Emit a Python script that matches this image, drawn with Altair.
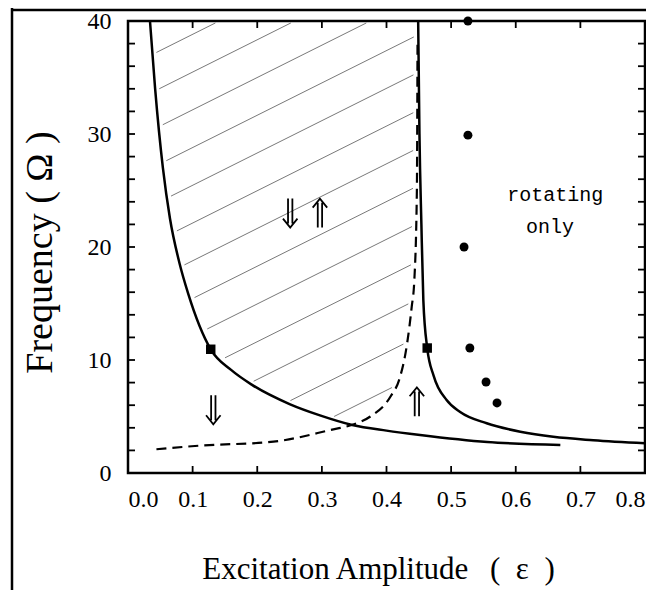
import altair as alt
import numpy as np
import pandas as pd

# ---- data ----
# left solid boundary
c1_eps = [0.034, 0.042, 0.054, 0.065, 0.080, 0.093, 0.128, 0.160, 0.192, 0.250, 0.297, 0.347, 0.400, 0.452, 0.556, 0.669]
c1_om = [40.0, 34.0, 27.0, 22.5, 18.5, 15.9, 10.95, 9.1, 7.8, 6.1, 5.1, 4.25, 3.75, 3.36, 2.74, 2.48]
# right solid boundary
c2_eps = [0.449, 0.451, 0.454, 0.457, 0.463, 0.473, 0.493, 0.514, 0.555, 0.607, 0.658, 0.720, 0.800]
c2_om = [40.0, 30.0, 22.0, 15.3, 11.06, 8.6, 6.46, 5.4, 4.4, 3.65, 3.2, 2.9, 2.63]
# dashed boundary
d_eps = [0.044, 0.111, 0.225, 0.313, 0.346, 0.375, 0.406, 0.421, 0.432, 0.439, 0.443, 0.447, 0.448]
d_om = [2.1, 2.42, 2.77, 3.8, 4.25, 5.0, 6.75, 8.5, 11.5, 14.7, 17.0, 25.0, 38.0]
# square markers
sq_eps = [0.128, 0.463]
sq_om = [10.95, 11.06]
# round markers
dot_eps = [0.526, 0.526, 0.520, 0.529, 0.554, 0.571]
dot_om = [40.0, 29.9, 20.0, 11.06, 8.05, 6.2]
# arrows
arr_eps = [0.251, 0.297, 0.132, 0.447]
arr_om = [23.0, 23.0, 5.6, 6.3]
arr_dir = ["down", "up", "down", "up"]
# text
txt_lab = ["rotating", "only"]
txt_eps = [0.661, 0.653]
txt_om = [24.6, 21.8]
# axis ticks
x_ticks = [0.0, 0.1, 0.2, 0.3, 0.4, 0.5, 0.6, 0.7, 0.8]
y_labels = [0, 10, 20, 30, 40]
y_ticks = [0, 2, 4, 6, 8, 10, 12, 14, 16, 18, 20, 22, 24, 26, 28, 30, 32, 34, 36, 38, 40]
# hatching (read spacing / slope of the hand drawn hatch lines)
hatch_b0 = -4.12
hatch_step = 3.34
hatch_slope = 28.6
hatch_n = 14

W, H = 517, 452
PB = 117
X0, X1, Y0, Y1 = 0.0, 0.8, 0.0, 40.0
SERIF = "Liberation Serif"
PX_X = (X1 - X0) / W      # data units per pixel
PX_Y = (Y1 - Y0) / H
TICK = 7                  # tick length, px

# ---- hatch segments clipped to the region between the boundaries ----
rows = []
grid = np.linspace(0.0, 0.46, 4000)
right_om = list(d_om) + [40.0]
right_eps = list(d_eps) + [c2_eps[0]]
left = np.where(grid >= c1_eps[0], np.interp(grid, c1_eps, c1_om), np.inf)
for k in range(hatch_n):
    b = hatch_b0 + hatch_step * k
    om = b + hatch_slope * grid
    rb = np.interp(om, right_om, right_eps)
    inside = (om > left) & (grid < rb) & (om <= 40.0)
    if inside.sum() < 2:
        continue
    e = grid[inside]
    e0, e1 = e.min() + 0.006, e.max() - 0.006
    if e1 <= e0:
        continue
    rows.append({"eps": e0, "om": b + hatch_slope * e0, "eps2": e1, "om2": b + hatch_slope * e1})
hatch_df = pd.DataFrame(rows)

xs = alt.Scale(domain=[X0, X1], nice=False, zero=False)
ys = alt.Scale(domain=[Y0, Y1], nice=False, zero=False)

x_axis = alt.Axis(values=x_ticks, format=".1f", ticks=False, domain=False, grid=False,
                  labelFont=SERIF, labelFontSize=24, labelPadding=14, labelColor="black",
                  title="Excitation Amplitude\u2002\u2009(\u2002ε\u2002)", titleFont=SERIF, titleFontSize=31,
                  titleFontWeight="normal", titleColor="black", titlePadding=43, titleX=250)
y_axis = alt.Axis(values=y_labels, ticks=False, domain=False, grid=False,
                  labelFont=SERIF, labelFontSize=24, labelPadding=17, labelColor="black",
                  title="Frequency  ( Ω )", titleFont=SERIF, titleFontSize=38,
                  titleFontWeight="normal", titleColor="black", titlePadding=28, titleY=231)

X = alt.X("eps:Q", scale=xs, axis=x_axis)
Y = alt.Y("om:Q", scale=ys, axis=y_axis)


def mk(df):
    d = df.copy()
    d["i"] = range(len(d))
    return d


c1_df = mk(pd.DataFrame({"eps": c1_eps, "om": c1_om}))
c2_df = mk(pd.DataFrame({"eps": c2_eps, "om": c2_om}))
d_df = mk(pd.DataFrame({"eps": d_eps, "om": d_om}))

# inward tick marks on all four sides (segments in data space, TICK px long)
tick_rows = []
for v in y_ticks:
    tick_rows.append({"eps": X0, "eps2": X0 + TICK * PX_X, "om": v, "om2": v})
    tick_rows.append({"eps": X1 - TICK * PX_X, "eps2": X1, "om": v, "om2": v})
for v in x_ticks:
    tick_rows.append({"eps": v, "eps2": v, "om": Y0, "om2": Y0 + TICK * PX_Y})
    tick_rows.append({"eps": v, "eps2": v, "om": Y1 - TICK * PX_Y, "om2": Y1})
ticks = alt.Chart(pd.DataFrame(tick_rows)).mark_rule(color="black", strokeWidth=1.8).encode(
    x=X, y=Y, x2="eps2:Q", y2="om2:Q")

# outer figure frame (top and left edges visible in the reference)
fx = X0 - 116 * PX_X
fy_top = Y1 + 11 * PX_Y
fy_bot = Y0 - PB * PX_Y
frame = alt.Chart(pd.DataFrame([
    {"eps": fx, "eps2": X1 + 1 * PX_X, "om": fy_top, "om2": fy_top},
    {"eps": fx, "eps2": fx, "om": fy_top + 2 * PX_Y, "om2": fy_bot},
])).mark_rule(color="black", strokeWidth=2.5).encode(x=X, y=Y, x2="eps2:Q", y2="om2:Q")

curve1 = alt.Chart(c1_df).mark_line(color="black", strokeWidth=2.5, interpolate="monotone").encode(
    x=X, y=Y, order="i:Q")
curve2 = alt.Chart(c2_df).mark_line(color="black", strokeWidth=2.5, interpolate="monotone").encode(
    x=X, y=Y, order="i:Q")
dashed = alt.Chart(d_df).mark_line(color="black", strokeWidth=2.2, strokeDash=[10, 6], interpolate="monotone").encode(
    x=X, y=Y, order="i:Q")

hatch = alt.Chart(hatch_df).mark_rule(color="#555555", strokeWidth=0.8).encode(
    x=X, y=Y, x2="eps2:Q", y2="om2:Q")

squares = alt.Chart(pd.DataFrame({"eps": sq_eps, "om": sq_om})).mark_point(
    shape="square", filled=True, color="black", size=90, opacity=1).encode(x=X, y=Y)

dots = alt.Chart(pd.DataFrame({"eps": dot_eps, "om": dot_om})).mark_point(
    shape="circle", filled=True, color="black", size=80, opacity=1).encode(x=X, y=Y)

down_path = "M -0.15 -1 L -0.15 0.72 M 0.15 -1 L 0.15 0.72 M -0.5 0.38 L 0 1 L 0.5 0.38"
up_path = "M -0.15 1 L -0.15 -0.72 M 0.15 1 L 0.15 -0.72 M -0.5 -0.38 L 0 -1 L 0.5 -0.38"
arrows = alt.Chart(pd.DataFrame({"eps": arr_eps, "om": arr_om, "dir": arr_dir})).mark_point(
    filled=False, color="black", strokeWidth=1.8, size=840, opacity=1).encode(
    x=X, y=Y,
    shape=alt.Shape("dir:N", scale=alt.Scale(domain=["down", "up"], range=[down_path, up_path]), legend=None))

texts = alt.Chart(pd.DataFrame({"eps": txt_eps, "om": txt_om, "t": txt_lab})).mark_text(
    font="Liberation Mono", fontSize=20, color="black", baseline="middle", align="center").encode(
    x=X, y=Y, text="t:N")

chart = alt.layer(
    ticks, frame, curve1, hatch, curve2, dashed, squares, dots, arrows, texts
).properties(
    width=W, height=H,
    autosize=alt.AutoSizeParams(type="none"),
    padding={"left": 120, "top": 13, "right": 1, "bottom": PB},
    background="white",
).configure_view(
    stroke="black", strokeWidth=2.5
).configure_axis(
    labelFont=SERIF, labelFontSize=24, labelColor="black"
)

chart.save("out.html", embed_options={"renderer": "svg", "actions": False})
